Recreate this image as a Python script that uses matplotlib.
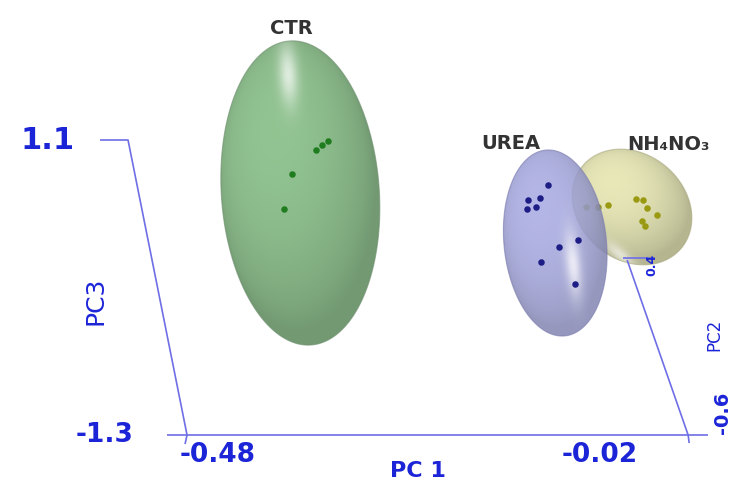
import numpy as np
import matplotlib
matplotlib.use("Agg")
import matplotlib.pyplot as plt
from matplotlib.patches import Polygon

# PCA scores as they appear on screen (PC1 across, PC3 up)
CTR_PC1 = [-0.351, -0.356, -0.362, -0.384, -0.391]
CTR_PC3 = [1.092, 1.059, 1.019, 0.823, 0.539]
UREA_PC1 = [-0.149, -0.167, -0.156, -0.168, -0.160, -0.121, -0.139, -0.155, -0.124]
UREA_PC3 = [0.734, 0.612, 0.628, 0.539, 0.555, 0.286, 0.229, 0.107, -0.072]
NH4_PC1 = [-0.114, -0.103, -0.094, -0.068, -0.061, -0.058, -0.049, -0.062, -0.060]
NH4_PC3 = [0.555, 0.555, 0.571, 0.620, 0.612, 0.547, 0.490, 0.441, 0.400]

GROUPS = ["CTR", "UREA", "NH\u2084NO\u2083"]
# confidence ellipsoids: centre, full width (PC1), full height (PC3), screen tilt (deg)
ELL_PC1 = [-0.376, -0.142, -0.0715]
ELL_PC3 = [0.669, 0.262, 0.555]
ELL_W = [0.145, 0.094, 0.118]
ELL_H = [2.48, 1.52, 0.86]
ELL_TILT = [4, 6, -40]

PC1_TICKS = [-0.48, -0.02]
PC3_TICKS = [-1.3, 1.1]
PC2_TICKS = ["0.4", "-0.6"]

W_PX, H_PX = 734, 480
XLIM = (-0.6517, 0.0221)
YLIM = (-1.666, 2.239)
KX = W_PX / (XLIM[1] - XLIM[0])   # pixels per PC1 unit
KY = H_PX / (YLIM[1] - YLIM[0])   # pixels per PC3 unit

LINE_C = "#6e6ee6"
TEXT_C = "#1c24d8"
# base colour, edge colour, point colour, highlight (u, v, su, sv, strength), alpha
STYLE = [
    ((0.56, 0.75, 0.56), "#6f8f6f", "#1f7d1f", (-0.05, 0.78, 0.12, 0.2, 0.7), 1.0),
    ((0.64, 0.65, 0.87), "#7a7ab0", "#1d1d85", (0.30, -0.25, 0.15, 0.35, 0.75), 0.85),
    ((0.89, 0.89, 0.71), "#a8a880", "#9a9a12", (0.35, -0.85, 0.30, 0.12, 0.6), 1.0),
]


def ellipsoid(ax, cx, cy, w, h, tilt, style, z):
    rgb, edge, _, hl, alpha = style
    a, b = w * KX / 2, h * KY / 2
    th = np.radians(tilt)
    t = np.linspace(0, 2 * np.pi, 240)
    ex, ey = a * np.cos(t), b * np.sin(t)
    xs = (ex * np.cos(th) - ey * np.sin(th)) / KX + cx
    ys = (ex * np.sin(th) + ey * np.cos(th)) / KY + cy
    outline = np.column_stack([xs, ys])

    r = max(a, b) + 2
    g = np.linspace(-r, r, 400)
    gx, gy = np.meshgrid(g, g)
    u = (gx * np.cos(th) + gy * np.sin(th)) / a
    v = (-gx * np.sin(th) + gy * np.cos(th)) / b
    nz = np.sqrt(np.clip(1 - u ** 2 - v ** 2, 0, 1))
    nx = u * np.cos(th) - v * np.sin(th)
    ny = u * np.sin(th) + v * np.cos(th)
    light = np.array([-0.3, 0.4, 0.87])
    light /= np.linalg.norm(light)
    diff = np.clip(nx * light[0] + ny * light[1] + nz * light[2], 0, 1)
    shade = 0.80 + 0.22 * diff
    spec = np.exp(-((u - hl[0]) ** 2 / hl[2] ** 2 + (v - hl[1]) ** 2 / hl[3] ** 2))
    img = np.clip(np.array(rgb)[None, None, :] * shade[..., None], 0, 1)
    img = img + (1 - img) * (spec * hl[4])[..., None]
    rgba = np.dstack([img, np.full(shade.shape, alpha)])

    clip = Polygon(outline, closed=True, fc="none", ec="none")
    ax.add_patch(clip)
    im = ax.imshow(rgba, extent=[cx - r / KX, cx + r / KX, cy - r / KY, cy + r / KY],
                   origin="lower", aspect="auto", interpolation="bilinear", zorder=z)
    im.set_clip_path(clip)
    ax.add_patch(Polygon(outline, closed=True, fc="none", ec=edge, lw=0.8,
                         alpha=0.6, zorder=z + 0.05))


fig = plt.figure(figsize=(W_PX / 100, H_PX / 100), dpi=100)
ax = fig.add_axes([0, 0, 1, 1])
ax.set_xlim(*XLIM)
ax.set_ylim(*YLIM)
ax.set_autoscale_on(False)
ax.axis("off")

points = [(CTR_PC1, CTR_PC3), (UREA_PC1, UREA_PC3), (NH4_PC1, NH4_PC3)]
zorders = [1, 5, 1]
for i in (0, 2, 1):
    z = zorders[i]
    ellipsoid(ax, ELL_PC1[i], ELL_PC3[i], ELL_W[i], ELL_H[i], ELL_TILT[i], STYLE[i], z)
    ax.scatter(*points[i], s=22, color=STYLE[i][2], lw=0, zorder=z + 1)

# label offsets from the ellipsoid centres, in pixels
label_off = [(-9, 164), (-44, 100), (36, 62)]
for i, name in enumerate(GROUPS):
    ax.annotate(name, (ELL_PC1[i], ELL_PC3[i]), xytext=label_off[i],
                textcoords="offset pixels", ha="center", va="center",
                fontsize=14, fontweight="semibold", color="#333333", zorder=8)

# 3D box frame
px = 1 / KX
py = 1 / KY
x0, x1 = PC1_TICKS
y0, y1 = PC3_TICKS
lk = dict(color=LINE_C, lw=1.2, zorder=7, solid_capstyle="butt")
ax.plot([x0 - 20 * px, x1 + 20 * px], [y0, y0], **lk)                       # PC1 axis
ax.plot([x0 - 87 * px, x0 - 59 * px, x0, x0 - 2 * px],
        [y1, y1, y0, y0 - 9 * py], **lk)                                       # PC3 axis
ax.plot([x1 - 65 * px, x1 - 40 * px], [y0 + 177 * py, y0 + 177 * py], **lk)    # PC2 tick
ax.plot([x1 - 61 * px, x1, x1 + 1 * px], [y0 + 175 * py, y0, y0 - 8 * py], **lk)  # PC2 axis

tk = dict(textcoords="offset pixels", ha="center", va="center", color=TEXT_C, zorder=8)
ax.annotate(f"{y1:.1f}", (x0 - 87 * px, y1), xytext=(-52, 0), fontsize=22,
            fontweight="bold", **tk)
ax.annotate(f"{y0:.1f}", (x0 - 20 * px, y0), xytext=(-62, 0), fontsize=19,
            fontweight="bold", **tk)
ax.annotate(f"{x0:.2f}", (x0, y0), xytext=(31, -20), fontsize=19,
            fontweight="bold", **tk)
ax.annotate(f"{x1:.2f}", (x1, y0), xytext=(-88, -20), fontsize=19,
            fontweight="bold", **tk)
ax.annotate("PC 1", ((x0 + x1) / 2, y0), xytext=(-20, -46), fontsize=16,
            fontweight="bold", textcoords="offset pixels", ha="center", va="bottom",
            color=TEXT_C, zorder=8)
ax.annotate("PC3", (x0 - 30 * px, (y0 + y1) / 2), xytext=(-62, -13), fontsize=18,
            rotation=90, **tk)
ax.annotate(PC2_TICKS[0], (x1 - 40 * px, y0 + 177 * py), xytext=(4, -7), fontsize=9,
            fontweight="bold", rotation=90, **tk)
ax.annotate("PC2", (x1, y0), xytext=(26, 100), fontsize=12, rotation=90, **tk)
ax.annotate(PC2_TICKS[1], (x1, y0), xytext=(34, 22), fontsize=14, fontweight="bold",
            rotation=90, **tk)

fig.savefig("out.png", dpi=100)
